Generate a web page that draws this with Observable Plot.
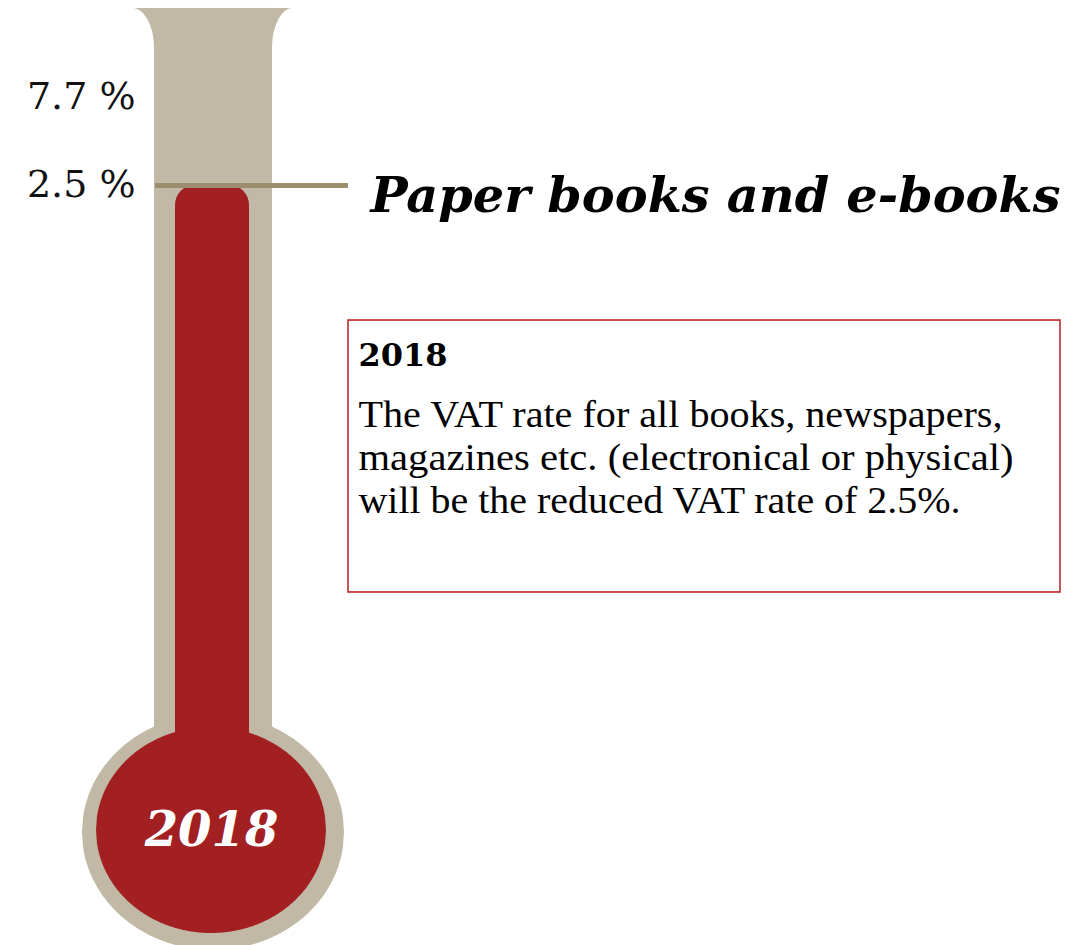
<!DOCTYPE html>
<html><head><meta charset="utf-8">
<script src="https://cdn.jsdelivr.net/npm/d3@7"></script>
<script src="https://cdn.jsdelivr.net/npm/@observablehq/plot@0.6"></script>
<style>html,body{margin:0;padding:0;background:#fff;} #chart svg{display:block}</style>
</head><body><div id="chart"></div>
<script>
// ---- data ----
const scaleRates = [7.7, 2.5];
const scaleLabels = ["7.7 %", "2.5 %"];
const currentRate = 2.5;
const category = "Paper books and e-books";
const year = "2018";
const noteTitle = "2018";
const noteLines = [
  "The VAT rate for all books, newspapers,",
  "magazines etc. (electronical or physical)",
  "will be the reduced VAT rate of 2.5%."
];

// ---- style ----
const tan = "#c1b9a6", red = "#a21f22", ruleColor = "#9b8d6e", boxColor = "#c0282e";
const serif = "DejaVu Serif";
const serifBody = "Liberation Serif";

// ---- layout (x in pixels, y in rate units of the thermometer scale) ----
const flareTop = 12.96, flareBottom = 10.60, flareDepth = 2.364;
const tubeX1 = 154, tubeX2 = 272, tubeBottom = -33.84;
const colX1 = 175, colX2 = 249, colBottom = -32.66;
const bulbTan = {cx: 213, cy: -35.73, rx: 131, ry: 6.97};
const bulbRed = {cx: 211, cy: -35.61, rx: 115, ry: 6.09};
const box = {x1: 348, x2: 1060, y1: -21.55, y2: -5.48};
const noteFirstBaseline = -11.80, noteLineStep = 2.54;
const noteWidths = [644, 655, 602];
const titleWidth = 690;

function ellipse(e, n = 240) {
  return d3.range(n + 1).map(i => {
    const x = e.cx - e.rx + 2 * e.rx * i / n;
    const t = Math.sqrt(Math.max(0, 1 - ((x - e.cx) / e.rx) ** 2));
    return {x, y1: e.cy - e.ry * t, y2: e.cy + e.ry * t};
  });
}
function flare(cx, x0, x1, n = 60) {
  const rx = Math.abs(x1 - x0);
  return d3.range(n + 1).map(i => {
    const x = x0 + (x1 - x0) * i / n;
    const t = Math.sqrt(Math.max(0, 1 - ((x - cx) / rx) ** 2));
    return {x, y1: flareTop, y2: flareBottom + flareDepth * t};
  });
}
const flareLeft = flare(132, 132, tubeX1);
const flareRight = flare(293, tubeX2, 293);

const chart = Plot.plot({
  width: 1090,
  height: 945,
  margin: 0,
  style: {background: "#fff"},
  x: {domain: [0, 1090], axis: null},
  y: {domain: [-42.41, 13.43], axis: null},
  marks: [
    Plot.areaY(flareLeft, {x: "x", y1: "y1", y2: "y2", fill: tan}),
    Plot.areaY(flareRight, {x: "x", y1: "y1", y2: "y2", fill: tan}),
    Plot.rect([0], {x1: tubeX1, x2: tubeX2, y1: tubeBottom, y2: flareTop, fill: tan}),
    Plot.areaY(ellipse(bulbTan), {x: "x", y1: "y1", y2: "y2", fill: tan}),
    Plot.rect([currentRate], {x1: colX1, x2: colX2, y1: colBottom, y2: d => d, fill: red, rx: 20}),
    Plot.areaY(ellipse(bulbRed), {x: "x", y1: "y1", y2: "y2", fill: red}),
    Plot.ruleY([currentRate], {x1: tubeX1 + 1, x2: box.x1, stroke: ruleColor, strokeWidth: 5}),
    Plot.text(scaleRates, {x: 135, y: d => d, text: (d, i) => scaleLabels[i], textAnchor: "end",
      lineAnchor: "bottom", dy: 12, fontFamily: serif, fontSize: 38, fill: "#111"}),
    Plot.text([currentRate], {x: 370, y: d => d, text: () => category, textAnchor: "start", lineAnchor: "bottom",
      dy: 27, fontFamily: serif, fontSize: 49, fontWeight: "bold", fontStyle: "italic", fill: "#000"}),
    Plot.text([year], {x: 211, y: bulbRed.cy, text: d => d, fontFamily: serif, fontSize: 48,
      fontWeight: "bold", fontStyle: "italic", fill: "#fff"}),
    Plot.rect([0], {x1: box.x1, x2: box.x2, y1: box.y1, y2: box.y2, fill: "none", stroke: boxColor, strokeWidth: 1.6}),
    Plot.text([noteTitle], {x: 358, y: -8.14, text: d => d, textAnchor: "start", lineAnchor: "bottom",
      fontFamily: serif, fontSize: 32, fontWeight: "bold", fill: "#000"}),
    Plot.text(noteLines, {x: 358, y: (d, i) => noteFirstBaseline - i * noteLineStep, text: d => d,
      textAnchor: "start", lineAnchor: "bottom", fontFamily: serifBody, fontSize: 38, fill: "#000"})
  ]
});
document.getElementById("chart").appendChild(chart);

// fit text runs to the reference widths
d3.select(chart).selectAll("text").each(function () {
  const t = this.textContent;
  const i = noteLines.indexOf(t);
  if (i >= 0) {
    d3.select(this).attr("textLength", noteWidths[i]).attr("lengthAdjust", "spacingAndGlyphs");
  } else if (t === category) {
    d3.select(this).attr("textLength", titleWidth).attr("lengthAdjust", "spacingAndGlyphs");
  }
});
</script>
</body></html>
